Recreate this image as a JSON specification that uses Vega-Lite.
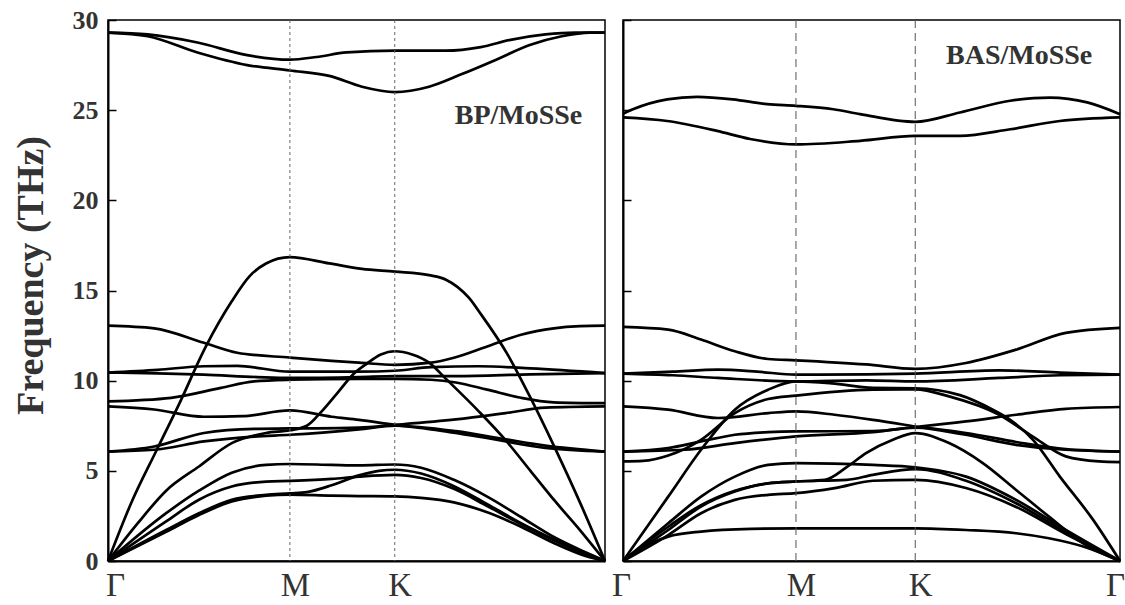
{
  "$schema": "https://vega.github.io/schema/vega-lite/v6.json",
  "background": "white",
  "padding": {"left": 11, "top": 6, "right": 0, "bottom": 0},
  "config": {"view": {"stroke": "#000", "strokeWidth": 1.5}, "font": "Liberation Serif", "concat": {"spacing": -2}},
  "datasets": {
    "bp": [
      {"b":"L1","k":0,"f":29.3},{"b":"L1","k":0.08,"f":29.2},{"b":"L1","k":0.18,"f":28.75},{"b":"L1","k":0.28,"f":28.05},{"b":"L1","k":0.366,"f":27.8},{"b":"L1","k":0.42,"f":27.95},{"b":"L1","k":0.48,"f":28.2},{"b":"L1","k":0.577,"f":28.3},{"b":"L1","k":0.68,"f":28.3},{"b":"L1","k":0.75,"f":28.5},{"b":"L1","k":0.81,"f":28.9},{"b":"L1","k":0.88,"f":29.2},{"b":"L1","k":0.94,"f":29.3},{"b":"L1","k":1,"f":29.3},
      {"b":"L2","k":0,"f":29.3},{"b":"L2","k":0.08,"f":29.1},{"b":"L2","k":0.18,"f":28.2},{"b":"L2","k":0.28,"f":27.5},{"b":"L2","k":0.366,"f":27.2},{"b":"L2","k":0.445,"f":26.9},{"b":"L2","k":0.511,"f":26.3},{"b":"L2","k":0.577,"f":26.0},{"b":"L2","k":0.646,"f":26.3},{"b":"L2","k":0.712,"f":27.0},{"b":"L2","k":0.781,"f":27.8},{"b":"L2","k":0.847,"f":28.6},{"b":"L2","k":0.913,"f":29.1},{"b":"L2","k":0.97,"f":29.3},{"b":"L2","k":1,"f":29.3},
      {"b":"L3","k":0,"f":0},{"b":"L3","k":0.048,"f":3.3},{"b":"L3","k":0.097,"f":6.1},{"b":"L3","k":0.143,"f":8.7},{"b":"L3","k":0.197,"f":11.9},{"b":"L3","k":0.249,"f":14.4},{"b":"L3","k":0.285,"f":15.8},{"b":"L3","k":0.318,"f":16.5},{"b":"L3","k":0.366,"f":16.85},{"b":"L3","k":0.445,"f":16.5},{"b":"L3","k":0.511,"f":16.2},{"b":"L3","k":0.577,"f":16.05},{"b":"L3","k":0.646,"f":15.85},{"b":"L3","k":0.68,"f":15.6},{"b":"L3","k":0.726,"f":14.6},{"b":"L3","k":0.75,"f":13.7},{"b":"L3","k":0.803,"f":11.5},{"b":"L3","k":0.851,"f":9.0},{"b":"L3","k":0.897,"f":6.4},{"b":"L3","k":0.952,"f":3.1},{"b":"L3","k":1,"f":0},
      {"b":"L4","k":0,"f":0},{"b":"L4","k":0.06,"f":2.1},{"b":"L4","k":0.117,"f":3.9},{"b":"L4","k":0.183,"f":5.24},{"b":"L4","k":0.25,"f":6.55},{"b":"L4","k":0.318,"f":7.1},{"b":"L4","k":0.366,"f":7.25},{"b":"L4","k":0.4,"f":7.5},{"b":"L4","k":0.43,"f":8.3},{"b":"L4","k":0.461,"f":9.3},{"b":"L4","k":0.495,"f":10.4},{"b":"L4","k":0.521,"f":10.95},{"b":"L4","k":0.549,"f":11.45},{"b":"L4","k":0.577,"f":11.63},{"b":"L4","k":0.612,"f":11.45},{"b":"L4","k":0.646,"f":11.0},{"b":"L4","k":0.68,"f":10.1},{"b":"L4","k":0.746,"f":8.3},{"b":"L4","k":0.8,"f":6.7},{"b":"L4","k":0.85,"f":5.0},{"b":"L4","k":0.9,"f":3.3},{"b":"L4","k":0.95,"f":1.7},{"b":"L4","k":1,"f":0},
      {"b":"L5","k":0,"f":0},{"b":"L5","k":0.117,"f":2.65},{"b":"L5","k":0.183,"f":3.9},{"b":"L5","k":0.249,"f":4.9},{"b":"L5","k":0.318,"f":5.33},{"b":"L5","k":0.366,"f":5.38},{"b":"L5","k":0.45,"f":5.33},{"b":"L5","k":0.505,"f":5.3},{"b":"L5","k":0.577,"f":5.35},{"b":"L5","k":0.63,"f":5.17},{"b":"L5","k":0.696,"f":4.5},{"b":"L5","k":0.763,"f":3.57},{"b":"L5","k":0.831,"f":2.44},{"b":"L5","k":0.897,"f":1.33},{"b":"L5","k":0.964,"f":0.44},{"b":"L5","k":1,"f":0},
      {"b":"L6","k":0,"f":0},{"b":"L6","k":0.117,"f":2.2},{"b":"L6","k":0.183,"f":3.4},{"b":"L6","k":0.249,"f":4.13},{"b":"L6","k":0.318,"f":4.4},{"b":"L6","k":0.366,"f":4.44},{"b":"L6","k":0.45,"f":4.55},{"b":"L6","k":0.505,"f":4.68},{"b":"L6","k":0.577,"f":4.78},{"b":"L6","k":0.63,"f":4.6},{"b":"L6","k":0.696,"f":4.0},{"b":"L6","k":0.763,"f":3.05},{"b":"L6","k":0.831,"f":2.05},{"b":"L6","k":0.897,"f":1.15},{"b":"L6","k":0.964,"f":0.35},{"b":"L6","k":1,"f":0},
      {"b":"L7","k":0,"f":0},{"b":"L7","k":0.117,"f":1.72},{"b":"L7","k":0.183,"f":2.65},{"b":"L7","k":0.249,"f":3.4},{"b":"L7","k":0.318,"f":3.67},{"b":"L7","k":0.366,"f":3.75},{"b":"L7","k":0.4,"f":3.82},{"b":"L7","k":0.45,"f":4.2},{"b":"L7","k":0.505,"f":4.75},{"b":"L7","k":0.545,"f":5.0},{"b":"L7","k":0.577,"f":5.06},{"b":"L7","k":0.63,"f":4.85},{"b":"L7","k":0.696,"f":4.15},{"b":"L7","k":0.763,"f":3.15},{"b":"L7","k":0.831,"f":2.1},{"b":"L7","k":0.897,"f":1.2},{"b":"L7","k":0.964,"f":0.38},{"b":"L7","k":1,"f":0},
      {"b":"L8","k":0,"f":0},{"b":"L8","k":0.117,"f":1.62},{"b":"L8","k":0.183,"f":2.55},{"b":"L8","k":0.249,"f":3.3},{"b":"L8","k":0.318,"f":3.62},{"b":"L8","k":0.366,"f":3.68},{"b":"L8","k":0.45,"f":3.62},{"b":"L8","k":0.505,"f":3.6},{"b":"L8","k":0.577,"f":3.58},{"b":"L8","k":0.63,"f":3.5},{"b":"L8","k":0.696,"f":3.25},{"b":"L8","k":0.763,"f":2.7},{"b":"L8","k":0.831,"f":1.9},{"b":"L8","k":0.897,"f":1.0},{"b":"L8","k":0.964,"f":0.25},{"b":"L8","k":1,"f":0},
      {"b":"L9","k":0,"f":13.05},{"b":"L9","k":0.093,"f":12.9},{"b":"L9","k":0.193,"f":12.1},{"b":"L9","k":0.26,"f":11.55},{"b":"L9","k":0.366,"f":11.28},{"b":"L9","k":0.45,"f":11.1},{"b":"L9","k":0.505,"f":11.0},{"b":"L9","k":0.577,"f":10.88},{"b":"L9","k":0.65,"f":11.0},{"b":"L9","k":0.696,"f":11.27},{"b":"L9","k":0.763,"f":11.9},{"b":"L9","k":0.831,"f":12.55},{"b":"L9","k":0.897,"f":12.9},{"b":"L9","k":0.95,"f":13.02},{"b":"L9","k":1,"f":13.05},
      {"b":"L10","k":0,"f":10.45},{"b":"L10","k":0.1,"f":10.6},{"b":"L10","k":0.193,"f":10.8},{"b":"L10","k":0.26,"f":10.82},{"b":"L10","k":0.366,"f":10.5},{"b":"L10","k":0.45,"f":10.5},{"b":"L10","k":0.505,"f":10.5},{"b":"L10","k":0.577,"f":10.55},{"b":"L10","k":0.65,"f":10.75},{"b":"L10","k":0.746,"f":10.8},{"b":"L10","k":0.85,"f":10.68},{"b":"L10","k":1,"f":10.42},
      {"b":"L11","k":0,"f":10.45},{"b":"L11","k":0.1,"f":10.4},{"b":"L11","k":0.193,"f":10.33},{"b":"L11","k":0.3,"f":10.2},{"b":"L11","k":0.366,"f":10.15},{"b":"L11","k":0.505,"f":10.2},{"b":"L11","k":0.577,"f":10.25},{"b":"L11","k":0.7,"f":10.25},{"b":"L11","k":0.85,"f":10.35},{"b":"L11","k":1,"f":10.42},
      {"b":"L12","k":0,"f":8.85},{"b":"L12","k":0.127,"f":9.05},{"b":"L12","k":0.227,"f":9.6},{"b":"L12","k":0.294,"f":9.96},{"b":"L12","k":0.366,"f":10.05},{"b":"L12","k":0.505,"f":10.1},{"b":"L12","k":0.577,"f":10.1},{"b":"L12","k":0.65,"f":10.05},{"b":"L12","k":0.7,"f":9.9},{"b":"L12","k":0.763,"f":9.5},{"b":"L12","k":0.831,"f":9.05},{"b":"L12","k":0.897,"f":8.8},{"b":"L12","k":1,"f":8.75},
      {"b":"L13","k":0,"f":8.57},{"b":"L13","k":0.093,"f":8.4},{"b":"L13","k":0.193,"f":8.0},{"b":"L13","k":0.27,"f":8.03},{"b":"L13","k":0.366,"f":8.35},{"b":"L13","k":0.45,"f":8.0},{"b":"L13","k":0.505,"f":7.83},{"b":"L13","k":0.577,"f":7.55},{"b":"L13","k":0.65,"f":7.3},{"b":"L13","k":0.746,"f":6.9},{"b":"L13","k":0.88,"f":6.27},{"b":"L13","k":1,"f":6.07},
      {"b":"L14","k":0,"f":6.07},{"b":"L14","k":0.093,"f":6.35},{"b":"L14","k":0.193,"f":7.1},{"b":"L14","k":0.294,"f":7.33},{"b":"L14","k":0.366,"f":7.35},{"b":"L14","k":0.505,"f":7.4},{"b":"L14","k":0.577,"f":7.55},{"b":"L14","k":0.7,"f":7.85},{"b":"L14","k":0.8,"f":8.2},{"b":"L14","k":0.88,"f":8.5},{"b":"L14","k":1,"f":8.57},
      {"b":"L15","k":0,"f":6.07},{"b":"L15","k":0.093,"f":6.17},{"b":"L15","k":0.193,"f":6.63},{"b":"L15","k":0.294,"f":6.9},{"b":"L15","k":0.366,"f":7.0},{"b":"L15","k":0.505,"f":7.3},{"b":"L15","k":0.577,"f":7.5},{"b":"L15","k":0.7,"f":7.2},{"b":"L15","k":0.8,"f":6.75},{"b":"L15","k":0.88,"f":6.4},{"b":"L15","k":1,"f":6.07}
    ],
    "bas": [
      {"b":"R1","k":0,"f":24.8},{"b":"R1","k":0.02,"f":25.05},{"b":"R1","k":0.089,"f":25.6},{"b":"R1","k":0.149,"f":25.74},{"b":"R1","k":0.221,"f":25.6},{"b":"R1","k":0.29,"f":25.33},{"b":"R1","k":0.348,"f":25.24},{"b":"R1","k":0.423,"f":25.05},{"b":"R1","k":0.477,"f":24.78},{"b":"R1","k":0.588,"f":24.35},{"b":"R1","k":0.678,"f":24.87},{"b":"R1","k":0.779,"f":25.52},{"b":"R1","k":0.859,"f":25.7},{"b":"R1","k":0.934,"f":25.43},{"b":"R1","k":1,"f":24.78},
      {"b":"R2","k":0,"f":24.6},{"b":"R2","k":0.089,"f":24.4},{"b":"R2","k":0.189,"f":23.85},{"b":"R2","k":0.256,"f":23.4},{"b":"R2","k":0.348,"f":23.1},{"b":"R2","k":0.477,"f":23.3},{"b":"R2","k":0.588,"f":23.57},{"b":"R2","k":0.678,"f":23.57},{"b":"R2","k":0.779,"f":23.94},{"b":"R2","k":0.879,"f":24.4},{"b":"R2","k":1,"f":24.6},
      {"b":"R3","k":0,"f":12.98},{"b":"R3","k":0.091,"f":12.83},{"b":"R3","k":0.157,"f":12.28},{"b":"R3","k":0.225,"f":11.63},{"b":"R3","k":0.292,"f":11.2},{"b":"R3","k":0.348,"f":11.13},{"b":"R3","k":0.489,"f":10.9},{"b":"R3","k":0.588,"f":10.65},{"b":"R3","k":0.69,"f":10.98},{"b":"R3","k":0.791,"f":11.72},{"b":"R3","k":0.891,"f":12.65},{"b":"R3","k":1,"f":12.93},
      {"b":"R4","k":0,"f":10.39},{"b":"R4","k":0.1,"f":10.5},{"b":"R4","k":0.191,"f":10.61},{"b":"R4","k":0.27,"f":10.5},{"b":"R4","k":0.348,"f":10.33},{"b":"R4","k":0.49,"f":10.35},{"b":"R4","k":0.588,"f":10.39},{"b":"R4","k":0.757,"f":10.57},{"b":"R4","k":0.88,"f":10.45},{"b":"R4","k":1,"f":10.33},
      {"b":"R5","k":0,"f":10.39},{"b":"R5","k":0.1,"f":10.3},{"b":"R5","k":0.191,"f":10.15},{"b":"R5","k":0.348,"f":9.96},{"b":"R5","k":0.49,"f":10.02},{"b":"R5","k":0.588,"f":9.96},{"b":"R5","k":0.757,"f":10.15},{"b":"R5","k":0.88,"f":10.3},{"b":"R5","k":1,"f":10.33},
      {"b":"R7","k":0,"f":8.57},{"b":"R7","k":0.091,"f":8.39},{"b":"R7","k":0.191,"f":7.93},{"b":"R7","k":0.292,"f":8.2},{"b":"R7","k":0.348,"f":8.3},{"b":"R7","k":0.426,"f":8.11},{"b":"R7","k":0.503,"f":7.83},{"b":"R7","k":0.588,"f":7.46},{"b":"R7","k":0.69,"f":7.0},{"b":"R7","k":0.791,"f":6.44},{"b":"R7","k":0.891,"f":6.17},{"b":"R7","k":1,"f":6.07},
      {"b":"R8","k":0,"f":6.07},{"b":"R8","k":0.091,"f":6.26},{"b":"R8","k":0.157,"f":6.63},{"b":"R8","k":0.225,"f":7.0},{"b":"R8","k":0.292,"f":7.15},{"b":"R8","k":0.348,"f":7.19},{"b":"R8","k":0.503,"f":7.2},{"b":"R8","k":0.588,"f":7.43},{"b":"R8","k":0.69,"f":7.74},{"b":"R8","k":0.791,"f":8.11},{"b":"R8","k":0.891,"f":8.44},{"b":"R8","k":1,"f":8.54},
      {"b":"R9","k":0,"f":6.07},{"b":"R9","k":0.124,"f":6.17},{"b":"R9","k":0.225,"f":6.54},{"b":"R9","k":0.348,"f":6.91},{"b":"R9","k":0.503,"f":7.15},{"b":"R9","k":0.588,"f":7.4},{"b":"R9","k":0.69,"f":7.1},{"b":"R9","k":0.791,"f":6.6},{"b":"R9","k":0.891,"f":6.2},{"b":"R9","k":1,"f":6.07},
      {"b":"R10","k":0,"f":5.52},{"b":"R10","k":0.04,"f":5.55},{"b":"R10","k":0.091,"f":5.85},{"b":"R10","k":0.157,"f":6.72},{"b":"R10","k":0.225,"f":8.2},{"b":"R10","k":0.292,"f":8.98},{"b":"R10","k":0.348,"f":9.17},{"b":"R10","k":0.503,"f":9.5},{"b":"R10","k":0.588,"f":9.52},{"b":"R10","k":0.656,"f":9.13},{"b":"R10","k":0.757,"f":8.11},{"b":"R10","k":0.824,"f":6.91},{"b":"R10","k":0.891,"f":5.8},{"b":"R10","k":0.958,"f":5.52},{"b":"R10","k":1,"f":5.48},
      {"b":"R11","k":0,"f":0},{"b":"R11","k":0.091,"f":3.57},{"b":"R11","k":0.157,"f":6.17},{"b":"R11","k":0.225,"f":8.39},{"b":"R11","k":0.292,"f":9.5},{"b":"R11","k":0.348,"f":9.96},{"b":"R11","k":0.42,"f":9.85},{"b":"R11","k":0.503,"f":9.6},{"b":"R11","k":0.588,"f":9.58},{"b":"R11","k":0.678,"f":9.2},{"b":"R11","k":0.744,"f":8.39},{"b":"R11","k":0.779,"f":7.83},{"b":"R11","k":0.825,"f":6.72},{"b":"R11","k":0.879,"f":4.68},{"b":"R11","k":0.946,"f":2.28},{"b":"R11","k":1,"f":0},
      {"b":"R12","k":0,"f":0},{"b":"R12","k":0.091,"f":2.09},{"b":"R12","k":0.157,"f":3.57},{"b":"R12","k":0.225,"f":4.68},{"b":"R12","k":0.292,"f":5.33},{"b":"R12","k":0.348,"f":5.43},{"b":"R12","k":0.503,"f":5.33},{"b":"R12","k":0.588,"f":5.2},{"b":"R12","k":0.69,"f":4.68},{"b":"R12","k":0.791,"f":3.39},{"b":"R12","k":0.891,"f":1.72},{"b":"R12","k":1,"f":0},
      {"b":"R13","k":0,"f":0},{"b":"R13","k":0.091,"f":1.9},{"b":"R13","k":0.157,"f":3.1},{"b":"R13","k":0.225,"f":3.9},{"b":"R13","k":0.292,"f":4.3},{"b":"R13","k":0.348,"f":4.41},{"b":"R13","k":0.406,"f":4.5},{"b":"R13","k":0.45,"f":5.2},{"b":"R13","k":0.489,"f":5.98},{"b":"R13","k":0.543,"f":6.72},{"b":"R13","k":0.588,"f":7.09},{"b":"R13","k":0.656,"f":6.54},{"b":"R13","k":0.724,"f":5.43},{"b":"R13","k":0.791,"f":3.94},{"b":"R13","k":0.857,"f":2.46},{"b":"R13","k":0.926,"f":0.98},{"b":"R13","k":1,"f":0},
      {"b":"R14","k":0,"f":0},{"b":"R14","k":0.091,"f":1.72},{"b":"R14","k":0.157,"f":3.02},{"b":"R14","k":0.225,"f":3.85},{"b":"R14","k":0.292,"f":4.31},{"b":"R14","k":0.348,"f":4.41},{"b":"R14","k":0.45,"f":4.5},{"b":"R14","k":0.503,"f":4.78},{"b":"R14","k":0.588,"f":5.1},{"b":"R14","k":0.69,"f":4.45},{"b":"R14","k":0.791,"f":3.2},{"b":"R14","k":0.891,"f":1.6},{"b":"R14","k":1,"f":0},
      {"b":"R15","k":0,"f":0},{"b":"R15","k":0.091,"f":1.44},{"b":"R15","k":0.157,"f":2.65},{"b":"R15","k":0.225,"f":3.39},{"b":"R15","k":0.292,"f":3.67},{"b":"R15","k":0.348,"f":3.76},{"b":"R15","k":0.426,"f":4.04},{"b":"R15","k":0.503,"f":4.45},{"b":"R15","k":0.588,"f":4.5},{"b":"R15","k":0.69,"f":4.05},{"b":"R15","k":0.791,"f":3.0},{"b":"R15","k":0.891,"f":1.5},{"b":"R15","k":1,"f":0},
      {"b":"R16","k":0,"f":0},{"b":"R16","k":0.03,"f":0.6},{"b":"R16","k":0.056,"f":0.98},{"b":"R16","k":0.091,"f":1.35},{"b":"R16","k":0.157,"f":1.63},{"b":"R16","k":0.258,"f":1.78},{"b":"R16","k":0.348,"f":1.81},{"b":"R16","k":0.588,"f":1.81},{"b":"R16","k":0.69,"f":1.72},{"b":"R16","k":0.791,"f":1.54},{"b":"R16","k":0.857,"f":1.26},{"b":"R16","k":0.926,"f":0.8},{"b":"R16","k":1,"f":0}
    ],
    "symL": [{"k": 0.366}, {"k": 0.577}],
    "symR": [{"k": 0.348}, {"k": 0.588}],
    "lblL": [{"k": 0.826, "f": 24.7, "label": "BP/MoSSe"}],
    "lblR": [{"k": 0.797, "f": 28.0, "label": "BAS/MoSSe"}]
  },
  "hconcat": [
    {
      "width": 497,
      "height": 541,
      "encoding": {
        "x": {"field": "k", "type": "quantitative", "scale": {"domain": [0, 1], "nice": false},
          "axis": {"values": [0, 0.366, 0.577], "labelExpr": "datum.value == 0 ? 'Γ' : (datum.value < 0.5 ? 'M' : 'K')", "ticks": false, "grid": false, "domainColor": "#000", "domainWidth": 2, "labelFont": "Liberation Serif", "labelFontSize": 33, "labelColor": "#333", "labelPadding": 8, "labelOffset": {"condition": {"test": "datum.value == 0", "value": 7}, "value": 5}, "labelFlush": false, "labelOverlap": false, "labelBound": false, "title": null}}
      },
      "layer": [
        {
          "data": {"name": "bp"},
          "mark": {"type": "line", "interpolate": "monotone", "stroke": "#000", "strokeWidth": 2.7},
          "encoding": {
            "y": {"field": "f", "type": "quantitative", "scale": {"domain": [0, 30], "nice": false},
              "axis": {"values": [0, 5, 10, 15, 20, 25, 30], "tickSize": -8, "tickWidth": 1.5, "tickColor": "#000", "labelPadding": 18, "labelFont": "Liberation Serif", "labelFontWeight": "bold", "labelFontSize": 26, "labelColor": "#333", "title": "Frequency (THz)", "titleFont": "Liberation Serif", "titleFontSize": 38, "titleFontWeight": "bold", "titleColor": "#333", "titlePadding": 22, "titleY": 255, "domainColor": "#000", "domainWidth": 2, "grid": false}},
            "detail": {"field": "b", "type": "nominal"}
          }
        },
        {
          "data": {"name": "symL"},
          "mark": {"type": "rule", "stroke": "#666", "strokeWidth": 1, "strokeDash": [3, 3]},
          "encoding": {}
        },
        {
          "data": {"name": "lblL"},
          "mark": {"type": "text", "font": "Liberation Serif", "fontSize": 28, "fontWeight": "bold", "color": "#333", "align": "center", "baseline": "middle"},
          "encoding": {
            "y": {"field": "f", "type": "quantitative"},
            "text": {"field": "label"}
          }
        }
      ]
    },
    {
      "width": 497,
      "height": 541,
      "encoding": {
        "x": {"field": "k", "type": "quantitative", "scale": {"domain": [0, 1], "nice": false},
          "axis": {"values": [0, 0.348, 0.588, 1], "labelExpr": "datum.value == 0 || datum.value == 1 ? 'Γ' : (datum.value < 0.5 ? 'M' : 'K')", "ticks": false, "grid": false, "domainColor": "#000", "domainWidth": 2, "labelFont": "Liberation Serif", "labelFontSize": 33, "labelColor": "#333", "labelPadding": 8, "labelOffset": {"condition": [{"test": "datum.value == 1", "value": -5}, {"test": "datum.value == 0", "value": -2}], "value": 5}, "labelFlush": false, "labelOverlap": false, "labelBound": false, "title": null}}
      },
      "layer": [
        {
          "data": {"name": "bas"},
          "mark": {"type": "line", "interpolate": "monotone", "stroke": "#000", "strokeWidth": 2.7},
          "encoding": {
            "y": {"field": "f", "type": "quantitative", "scale": {"domain": [0, 30], "nice": false},
              "axis": {"values": [0, 5, 10, 15, 20, 25, 30], "tickSize": -8, "tickWidth": 1.5, "tickColor": "#000", "labels": false, "title": null, "domainColor": "#000", "domainWidth": 2, "grid": false}},
            "detail": {"field": "b", "type": "nominal"}
          }
        },
        {
          "data": {"name": "symR"},
          "mark": {"type": "rule", "stroke": "#555", "strokeWidth": 1, "strokeDash": [8, 5]},
          "encoding": {}
        },
        {
          "data": {"name": "lblR"},
          "mark": {"type": "text", "font": "Liberation Serif", "fontSize": 28, "fontWeight": "bold", "color": "#333", "align": "center", "baseline": "middle"},
          "encoding": {
            "y": {"field": "f", "type": "quantitative"},
            "text": {"field": "label"}
          }
        }
      ]
    }
  ]
}
